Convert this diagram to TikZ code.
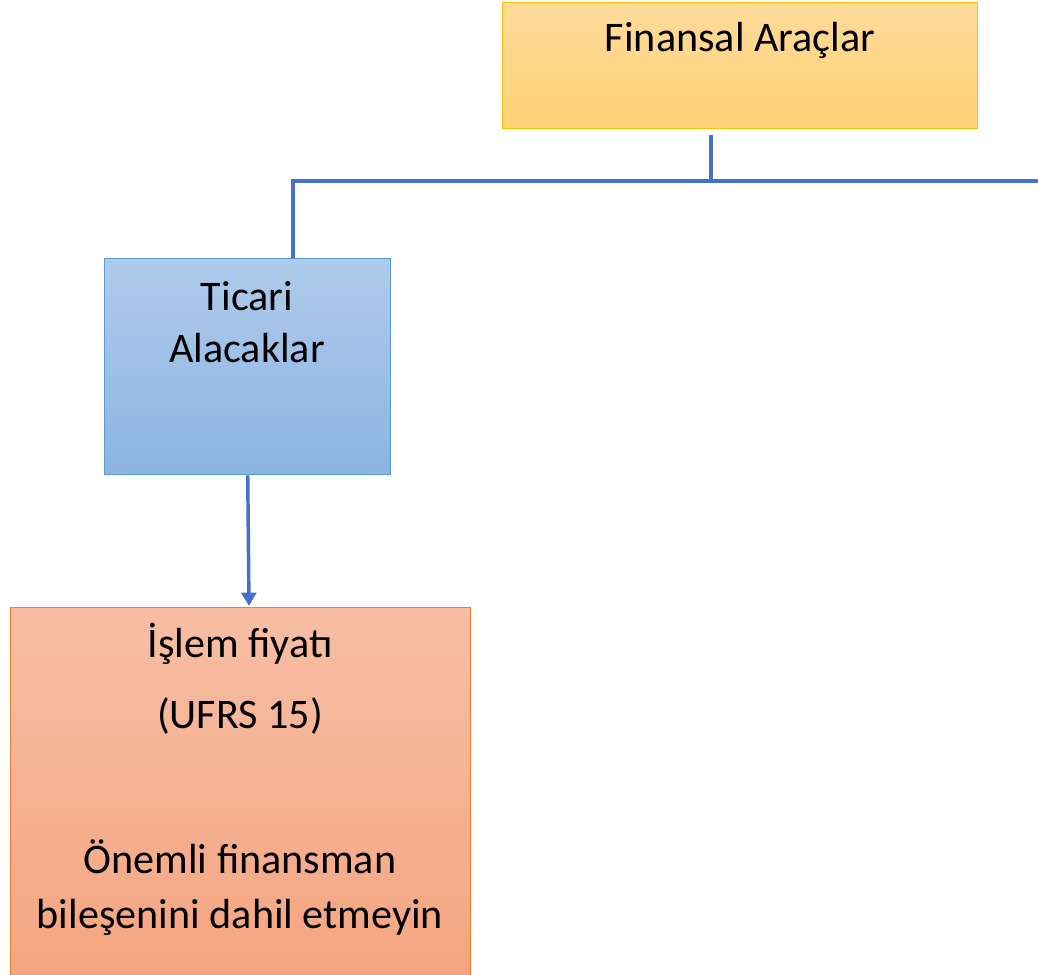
\documentclass[tikz,border=0pt]{standalone}
\usepackage{fontspec}
\setmainfont{Carlito}
\usetikzlibrary{arrows.meta}
\definecolor{connblue}{HTML}{4472C4}
\definecolor{goldline}{HTML}{FFC000}
\definecolor{goldtop}{HTML}{FEDB9A}
\definecolor{goldbot}{HTML}{FED176}
\definecolor{blueline}{HTML}{5B9BD5}
\definecolor{bluetop}{HTML}{AECBEA}
\definecolor{bluebot}{HTML}{8DB3E2}
\definecolor{salline}{HTML}{ED7D31}
\definecolor{saltop}{HTML}{F7BEA5}
\definecolor{salbot}{HTML}{F4A27B}
\begin{document}
\begin{tikzpicture}[x=0.75pt,y=-0.75pt,
  box/.style={draw, line width=1.1pt, inner sep=0pt, anchor=north west},
  conn/.style={draw=connblue, line width=2.6pt},
  lbl/.style={font=\fontsize{31.6}{38}\selectfont, anchor=base, inner sep=0pt}]
\useasboundingbox (0,0) rectangle (1038,974);
\clip (0,0) rectangle (1038,974);
% boxes
\node[box, draw=goldline, top color=goldtop, bottom color=goldbot,
      minimum width=356.25pt, minimum height=94.5pt] (fin) at (502,2) {};
\node[box, draw=blueline, top color=bluetop, bottom color=bluebot,
      minimum width=214.5pt, minimum height=162pt] (tic) at (104,258) {};
\node[box, draw=salline, top color=saltop, bottom color=salbot,
      minimum width=345pt, minimum height=310pt] (isl) at (10,607) {};
% texts
\node[lbl] (t1) at (740,52) {Finansal Araçlar};
\node[lbl] (t2) at (247,310) {Ticari};
\node[lbl] (t3) at (247,362) {Alacaklar};
\node[lbl] (t4) at (240,657) {İşlem fiyatı};
\node[lbl] (t5) at (240,728) {(UFRS 15)};
\node[lbl] (t6) at (240,873) {Önemli finansman};
\node[lbl] (t7) at (240,928) {bileşenini dahil etmeyin};
% connectors
\coordinate (top) at (711,135);
\coordinate (jc) at (711,181);
\coordinate (jl) at (293,181);
\coordinate (jr) at (1040,181);
\coordinate (tip) at (249,606);
\draw[conn] (top) -- (jc);
\draw[conn] (jr) -- (jl) -- (jl |- tic.north);
\draw[conn, -{Triangle[width=11pt,length=10pt]}] (tic.south) -- (tip);
\end{tikzpicture}
\end{document}
